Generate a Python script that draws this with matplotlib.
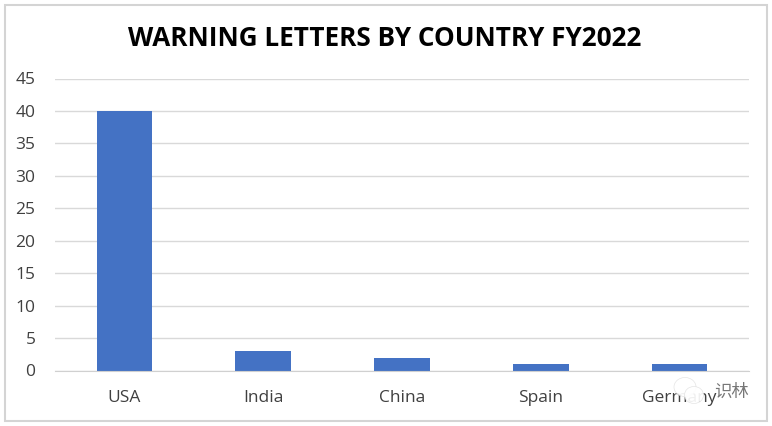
import matplotlib
matplotlib.use('Agg')
import matplotlib.pyplot as plt
from matplotlib.patches import Rectangle, Ellipse

countries = ['USA', 'India', 'China', 'Spain', 'Germany']
letters = [40, 3, 2, 1, 1]
yticks = [0, 5, 10, 15, 20, 25, 30, 35, 40, 45]

W, H = 772, 426
plt.rcParams['font.family'] = ['Open Sans', 'Noto Sans CJK SC', 'DejaVu Sans']

fig = plt.figure(figsize=(W / 100, H / 100), dpi=100, facecolor='white')
ax = fig.add_axes([55 / W, 1 - 370.5 / H, (749 - 55) / W, (370.5 - 78.5) / H])

ax.set_axisbelow(True)
ax.yaxis.grid(True, color='#d9d9d9', linewidth=1)
ax.bar(countries, letters, width=0.4, color='#4472c4')

ax.set_xlim(-0.5, 4.5)
ax.set_ylim(0, 45)
ax.set_yticks(yticks)
ax.tick_params(axis='both', length=0, labelsize=12.5, labelcolor='#404040')
ax.tick_params(axis='x', pad=14)
ax.tick_params(axis='y', pad=14)
for side in ['top', 'right', 'left']:
    ax.spines[side].set_visible(False)
ax.spines['bottom'].set_color('#d0d0d0')

fig.text(385 / W, 1 - 38 / H, 'WARNING LETTERS BY COUNTRY FY2022', ha='center', va='center',
         fontsize=18.8, fontweight='bold', color='black')

# outer frame of the screenshot
fig.add_artist(Rectangle((4.5 / W, 1 - 421 / H), 762 / W, 416.5 / H, transform=fig.transFigure,
                         fill=False, edgecolor='#d4d4d4', linewidth=1.5))

# watermark over the last label
for x, y, w, h in [(685, 387, 22, 19), (694, 395, 19, 17)]:
    fig.add_artist(Ellipse((x / W, 1 - y / H), w / W, h / H, transform=fig.transFigure,
                           facecolor='white', edgecolor='#e2e2e2', linewidth=0.5, alpha=0.92))
fig.text(731 / W, 1 - 393 / H, '识林', ha='center', va='center', fontsize=12.5, color='#777777')

fig.savefig('out.png', dpi=100)
